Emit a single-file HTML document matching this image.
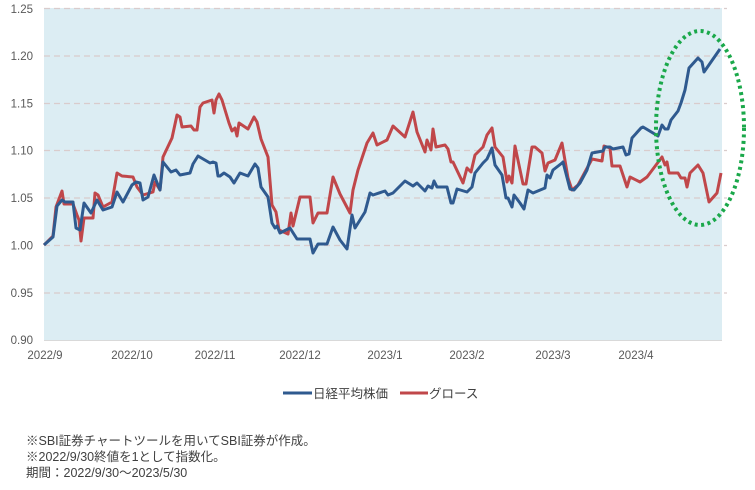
<!DOCTYPE html>
<html><head><meta charset="utf-8"><style>
body{margin:0;background:#fff;width:755px;height:490px;overflow:hidden;font-family:"Liberation Sans","Noto Sans CJK JP",sans-serif;}
</style></head><body>
<svg width="755" height="490" xmlns="http://www.w3.org/2000/svg" style="position:absolute;left:0;top:0">
<rect x="44" y="8" width="678" height="332" fill="#dcedf3"/>
<g stroke="#d9cccc" stroke-width="1.3" stroke-dasharray="6 4">
<line x1="44" x2="727" y1="8.5" y2="8.5"/><line x1="44" x2="727" y1="56" y2="56"/>
<line x1="44" x2="727" y1="103.5" y2="103.5"/><line x1="44" x2="727" y1="150.5" y2="150.5"/>
<line x1="44" x2="727" y1="198" y2="198"/><line x1="44" x2="727" y1="245.5" y2="245.5"/>
<line x1="44" x2="727" y1="293" y2="293"/>
</g>
<line x1="44" x2="722" y1="340.5" y2="340.5" stroke="#d9d9d9" stroke-width="1"/>
<g font-size="11.5" fill="#595959" text-anchor="end">
<text x="33" y="13">1.25</text><text x="33" y="60">1.20</text><text x="33" y="107.5">1.15</text>
<text x="33" y="154.5">1.10</text><text x="33" y="202">1.05</text><text x="33" y="249.5">1.00</text>
<text x="33" y="297">0.95</text><text x="33" y="344">0.90</text>
</g>
<g font-size="11.5" fill="#595959" text-anchor="middle">
<text x="45" y="359">2022/9</text><text x="132" y="359">2022/10</text><text x="215" y="359">2022/11</text>
<text x="300" y="359">2022/12</text><text x="385" y="359">2023/1</text><text x="467" y="359">2023/2</text>
<text x="553" y="359">2023/3</text><text x="636" y="359">2023/4</text>
</g>
<polyline fill="none" stroke="#c0474a" stroke-width="3" stroke-linejoin="round" points="44,245 53,236 56,207 62,191 64,204 73,204 77,215 79,220 81,241 84,218 93,218 95,193 98,195 103,207 112,202 117,173 122,176 133,177 137,187 143,195 153,192 155,182 160,190 163,157 172,138 177,115 180,117 182,127 191,126 194,130 197,130 200,107 203,103 212,100 214,113 216,100 219,94 222,100 229,123 232,131 235,128 237,136 239,123 248,129 254,117 257,122 261,139 268,157 272,205 276,212 279,230 288,234 291,213 293,226 300,197 310,197 313,223 318,213 327,213 333,177 340,194 350,213 353,190 358,170 367,143 373,133 377,145 387,140 393,126 405,137 413,112 417,132 425,152 427,140 431,150 433,129 436,147 445,145 448,149 451,162 453,162 463,183 467,168 471,172 475,155 483,147 487,135 492,128 495,147 503,157 507,182 509,176 512,183 515,146 523,184 526,184 532,147 535,147 542,153 545,171 548,163 555,160 562,143 568,178 572,190 578,185 585,172 592,159 602,161 604,146 610,148 612,166 620,166 627,187 630,177 640,182 647,177 662,157 665,165 667,162 669,173 678,173 681,178 685,178 687,187 690,173 698,165 703,173 709,202 717,193 721,173"/>
<polyline fill="none" stroke="#2f5a8f" stroke-width="3" stroke-linejoin="round" points="44,245 53,237 57,206 62,200 65,202 73,202 76,228 80,230 84,203 91,213 97,200 103,210 112,207 117,192 123,202 132,185 136,182 140,183 143,200 148,197 154,175 160,190 163,162 171,172 176,170 180,175 190,173 193,164 198,156 210,163 213,162 216,163 218,176 220,176 224,173 230,177 234,183 240,173 248,176 255,164 258,168 261,187 268,197 272,223 275,228 277,226 280,233 290,228 297,239 310,239 313,253 318,244 327,244 333,227 340,240 347,249 352,215 355,228 365,212 370,193 373,195 385,191 388,195 393,193 405,181 413,186 417,183 425,191 428,186 432,188 434,181 437,187 447,187 451,203 453,203 457,189 467,192 472,187 475,173 483,163 487,159 492,148 495,165 502,175 506,198 508,198 512,207 514,195 520,203 524,209 528,190 533,193 545,188 547,175 550,178 553,170 562,163 563,162 570,189 574,190 580,183 587,170 592,153 603,151 605,147 610,147 613,149 623,147 626,155 629,154 632,138 641,128 643,127 658,136 662,125 665,129 668,129 671,120 678,111 681,103 685,90 689,68 698,58 702,62 704,72 720,49"/>
<ellipse cx="700" cy="128" rx="44" ry="97" fill="none" stroke="#1aa84a" stroke-width="4" stroke-dasharray="3 3.5"/>
<line x1="283" x2="312" y1="393" y2="393" stroke="#2f5a8f" stroke-width="3"/>
<text x="313" y="398" font-size="12.5" fill="#404040">日経平均株価</text>
<line x1="400" x2="428" y1="393" y2="393" stroke="#c0474a" stroke-width="3"/>
<text x="429" y="398" font-size="12.5" fill="#404040">グロース</text>
<g font-size="12.5" fill="#404040">
<text x="26" y="445">※SBI証券チャートツールを用いてSBI証券が作成。</text>
<text x="26" y="461">※2022/9/30終値を1として指数化。</text>
<text x="26" y="477">期間：2022/9/30～2023/5/30</text>
</g>
</svg>
</body></html>
